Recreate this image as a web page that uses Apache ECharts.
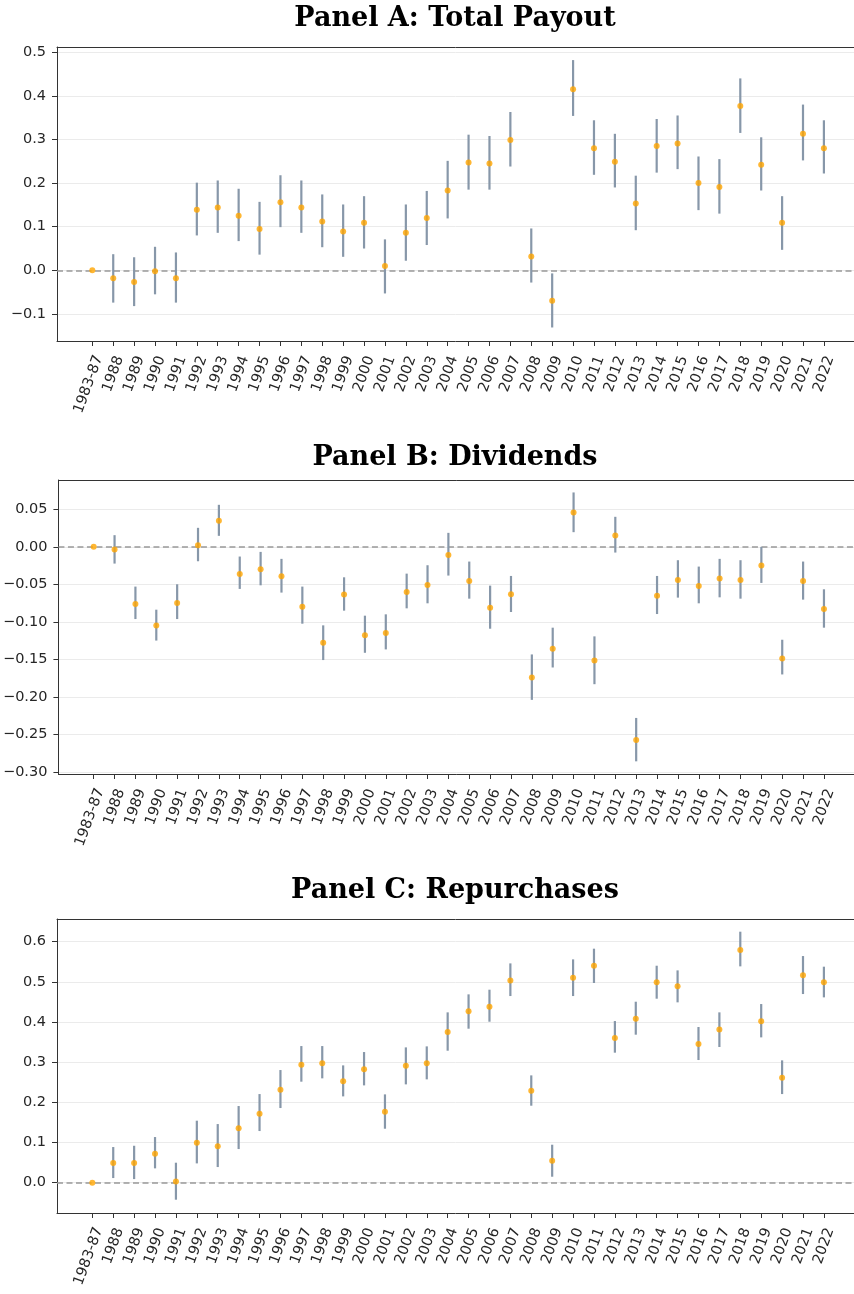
<!DOCTYPE html>
<html>
<head>
<meta charset="utf-8">
<script src="https://cdn.jsdelivr.net/npm/echarts@6/dist/echarts.min.js"></script>
<style>
html,body{margin:0;padding:0;background:#fff;overflow:hidden;}
#main{width:854px;height:1294px;}
</style>
</head>
<body>
<div id="main"></div>
<script>
// ---- Data ----
const categories = ['1983-87','1988','1989','1990','1991','1992','1993','1994','1995','1996','1997','1998','1999','2000','2001','2002','2003','2004','2005','2006','2007','2008','2009','2010','2011','2012','2013','2014','2015','2016','2017','2018','2019','2020','2021','2022'];

// Panel A: Total Payout
const payoutCoef = [0, -0.018, -0.027, -0.002, -0.018, 0.139, 0.144, 0.125, 0.095, 0.156, 0.144, 0.112, 0.089, 0.109, 0.010, 0.086, 0.120, 0.183, 0.247, 0.245, 0.299, 0.032, -0.070, 0.415, 0.280, 0.249, 0.153, 0.285, 0.291, 0.200, 0.191, 0.377, 0.242, 0.109, 0.313, 0.280];
const payoutLo = [null, -0.074, -0.082, -0.055, -0.074, 0.080, 0.086, 0.067, 0.036, 0.099, 0.086, 0.053, 0.031, 0.050, -0.053, 0.022, 0.058, 0.119, 0.185, 0.185, 0.238, -0.028, -0.131, 0.354, 0.219, 0.190, 0.092, 0.224, 0.232, 0.138, 0.130, 0.315, 0.183, 0.047, 0.252, 0.222];
const payoutHi = [null, 0.037, 0.030, 0.054, 0.041, 0.201, 0.206, 0.187, 0.157, 0.218, 0.206, 0.174, 0.151, 0.170, 0.071, 0.151, 0.182, 0.251, 0.311, 0.308, 0.363, 0.096, -0.007, 0.482, 0.344, 0.313, 0.217, 0.347, 0.355, 0.261, 0.255, 0.440, 0.305, 0.170, 0.380, 0.344];

// Panel B: Dividends
const divCoef = [0, -0.0036, -0.0762, -0.105, -0.0749, 0.0022, 0.0348, -0.0361, -0.0299, -0.0392, -0.0798, -0.128, -0.0637, -0.118, -0.115, -0.0602, -0.0508, -0.0107, -0.0455, -0.0811, -0.0633, -0.1742, -0.1359, 0.0459, -0.1515, 0.0152, -0.2576, -0.0651, -0.0441, -0.0521, -0.0423, -0.0441, -0.025, -0.1488, -0.0455, -0.0829];
const divLo = [null, -0.0223, -0.0963, -0.125, -0.0963, -0.0192, 0.0147, -0.0561, -0.0513, -0.061, -0.1025, -0.151, -0.0851, -0.1413, -0.1368, -0.082, -0.0753, -0.0383, -0.0691, -0.1092, -0.0869, -0.2041, -0.1609, 0.0196, -0.1832, -0.0076, -0.2861, -0.0896, -0.0677, -0.0753, -0.0673, -0.0691, -0.0481, -0.1702, -0.0704, -0.1078];
const divHi = [null, 0.0156, -0.053, -0.0838, -0.0499, 0.0254, 0.0561, -0.0129, -0.0067, -0.016, -0.053, -0.1047, -0.0406, -0.0918, -0.090, -0.0357, -0.0245, 0.0187, -0.0196, -0.0517, -0.0388, -0.1435, -0.1078, 0.0726, -0.1194, 0.0401, -0.2282, -0.0388, -0.0178, -0.0263, -0.016, -0.0178, 0.0, -0.1239, -0.0196, -0.0566];

// Panel C: Repurchases
const repCoef = [0, 0.049, 0.049, 0.0722, 0.0033, 0.0996, 0.0905, 0.1353, 0.1718, 0.2315, 0.2938, 0.2971, 0.2523, 0.2822, 0.1768, 0.2913, 0.2971, 0.3751, 0.4266, 0.4382, 0.5037, 0.229, 0.0548, 0.5104, 0.5402, 0.3602, 0.4083, 0.4988, 0.4888, 0.3452, 0.3817, 0.5793, 0.4017, 0.2614, 0.5162, 0.4988];
const repLo = [null, 0.0116, 0.009, 0.0357, -0.0423, 0.0481, 0.039, 0.0838, 0.1286, 0.1859, 0.2515, 0.2598, 0.2149, 0.2423, 0.1344, 0.2448, 0.2573, 0.3286, 0.3834, 0.4008, 0.4647, 0.1917, 0.0149, 0.4647, 0.4971, 0.3237, 0.3685, 0.4581, 0.449, 0.3054, 0.3378, 0.5386, 0.3618, 0.2207, 0.4697, 0.4614];
const repHi = [null, 0.0888, 0.092, 0.1137, 0.0498, 0.1544, 0.146, 0.1909, 0.2207, 0.2805, 0.3402, 0.3402, 0.2921, 0.3253, 0.2199, 0.3369, 0.3394, 0.4241, 0.4689, 0.4805, 0.546, 0.2672, 0.0946, 0.556, 0.5826, 0.4025, 0.4506, 0.5402, 0.5286, 0.3876, 0.4241, 0.6249, 0.4448, 0.3046, 0.5643, 0.5378];

// Tick labels
const ticksA = [-0.1, 0.0, 0.1, 0.2, 0.3, 0.4, 0.5];
const ticksB = [-0.30, -0.25, -0.20, -0.15, -0.10, -0.05, 0.00, 0.05];
const ticksC = [0.0, 0.1, 0.2, 0.3, 0.4, 0.5, 0.6];

const titles = ['Panel A: Total Payout', 'Panel B: Dividends', 'Panel C: Repurchases'];

// ---- Build chart ----
const panels = [
  {coef: payoutCoef, lo: payoutLo, hi: payoutHi, ticks: ticksA, dec: 1, min: -0.162, max: 0.512, top: 47, height: 294, titleTop: 0},
  {coef: divCoef, lo: divLo, hi: divHi, ticks: ticksB, dec: 2, min: -0.303, max: 0.0892, top: 480, height: 294, titleTop: 439},
  {coef: repCoef, lo: repLo, hi: repHi, ticks: ticksC, dec: 1, min: -0.0754, max: 0.6565, top: 919, height: 294, titleTop: 872}
];

const catIdx = categories.map((c, i) => i);
const FONT = 'DejaVu Sans';
const textColor = '#262626';
const spine = '#333333';
const X_MIN = -1.69, X_MAX = 36.44;

const option = {
  animation: false,
  backgroundColor: '#ffffff',
  title: [], grid: [], xAxis: [], yAxis: [], series: []
};

panels.forEach((p, k) => {
  option.title.push({
    text: titles[k], left: 450, top: p.titleTop, textAlign: 'center',
    textStyle: {fontFamily: 'DejaVu Serif', fontWeight: 'bold', fontSize: 27, color: '#000'}
  });
  option.grid.push({left: 57, right: 0, top: p.top, height: p.height, show: false});
  option.xAxis.push({
    type: 'value', gridIndex: k, min: X_MIN, max: X_MAX, position: 'bottom',
    axisLine: {show: true, onZero: false, lineStyle: {color: spine, width: 1}},
    splitLine: {show: false},
    axisTick: {show: true, length: 5, lineStyle: {color: spine, width: 1}, customValues: catIdx},
    axisLabel: {
      customValues: catIdx, rotate: 70, align: 'center', verticalAlign: 'middle', margin: 33,
      fontFamily: FONT, fontSize: 14.5, color: textColor,
      formatter: v => {
        const i = Math.round(v);
        return i === 0 ? '{f|' + categories[i] + '}' : categories[i];
      },
      rich: {f: {fontFamily: FONT, fontSize: 14.5, color: textColor, padding: [0, 22, 0, 0]}}
    }
  });
  option.yAxis.push({
    type: 'value', gridIndex: k, min: p.min, max: p.max, position: 'left',
    axisLine: {show: true, onZero: false, lineStyle: {color: spine, width: 1}},
    axisTick: {show: true, length: 5, lineStyle: {color: spine, width: 1}, customValues: p.ticks},
    splitLine: {show: true, lineStyle: {color: '#ebebeb', width: 1}},
    axisLabel: {
      customValues: p.ticks, margin: 11, fontFamily: FONT, fontSize: 14.5, color: textColor,
      formatter: v => v.toFixed(p.dec).replace('-', '\u2212')
    }
  });
  const barData = [];
  p.lo.forEach((lo, i) => { if (lo !== null) barData.push([i, lo, p.hi[i]]); });
  option.series.push({
    type: 'custom', xAxisIndex: k, yAxisIndex: k, z: 3,
    encode: {x: 0, y: [1, 2]},
    data: barData,
    renderItem: (params, api) => {
      const a = api.coord([api.value(0), api.value(1)]);
      const b = api.coord([api.value(0), api.value(2)]);
      return {type: 'line', shape: {x1: a[0], y1: a[1], x2: b[0], y2: b[1]},
              style: {stroke: '#8797a9', lineWidth: 2.2}};
    },
    silent: true
  });
  option.series.push({
    type: 'scatter', xAxisIndex: k, yAxisIndex: k, z: 4,
    symbol: 'circle', symbolSize: 6,
    itemStyle: {color: '#ffa500'},
    data: p.coef.map((v, i) => [i, v]),
    markLine: {
      silent: true, symbol: 'none', z: 2, label: {show: false},
      lineStyle: {color: '#999999', width: 1.5, type: [6, 3.5]},
      data: [{yAxis: 0}]
    }
  });
});

// Top spines (frame line along the top of each panel)
panels.forEach((p, k) => {
  option.xAxis.push({
    type: 'value', gridIndex: k, min: X_MIN, max: X_MAX, position: 'top',
    axisLine: {show: true, onZero: false, lineStyle: {color: spine, width: 1}},
    axisTick: {show: false}, axisLabel: {show: false}, splitLine: {show: false}
  });
});

const chart = echarts.init(document.getElementById('main'), null, {renderer: 'canvas'});
chart.setOption(option);
</script>
</body>
</html>
